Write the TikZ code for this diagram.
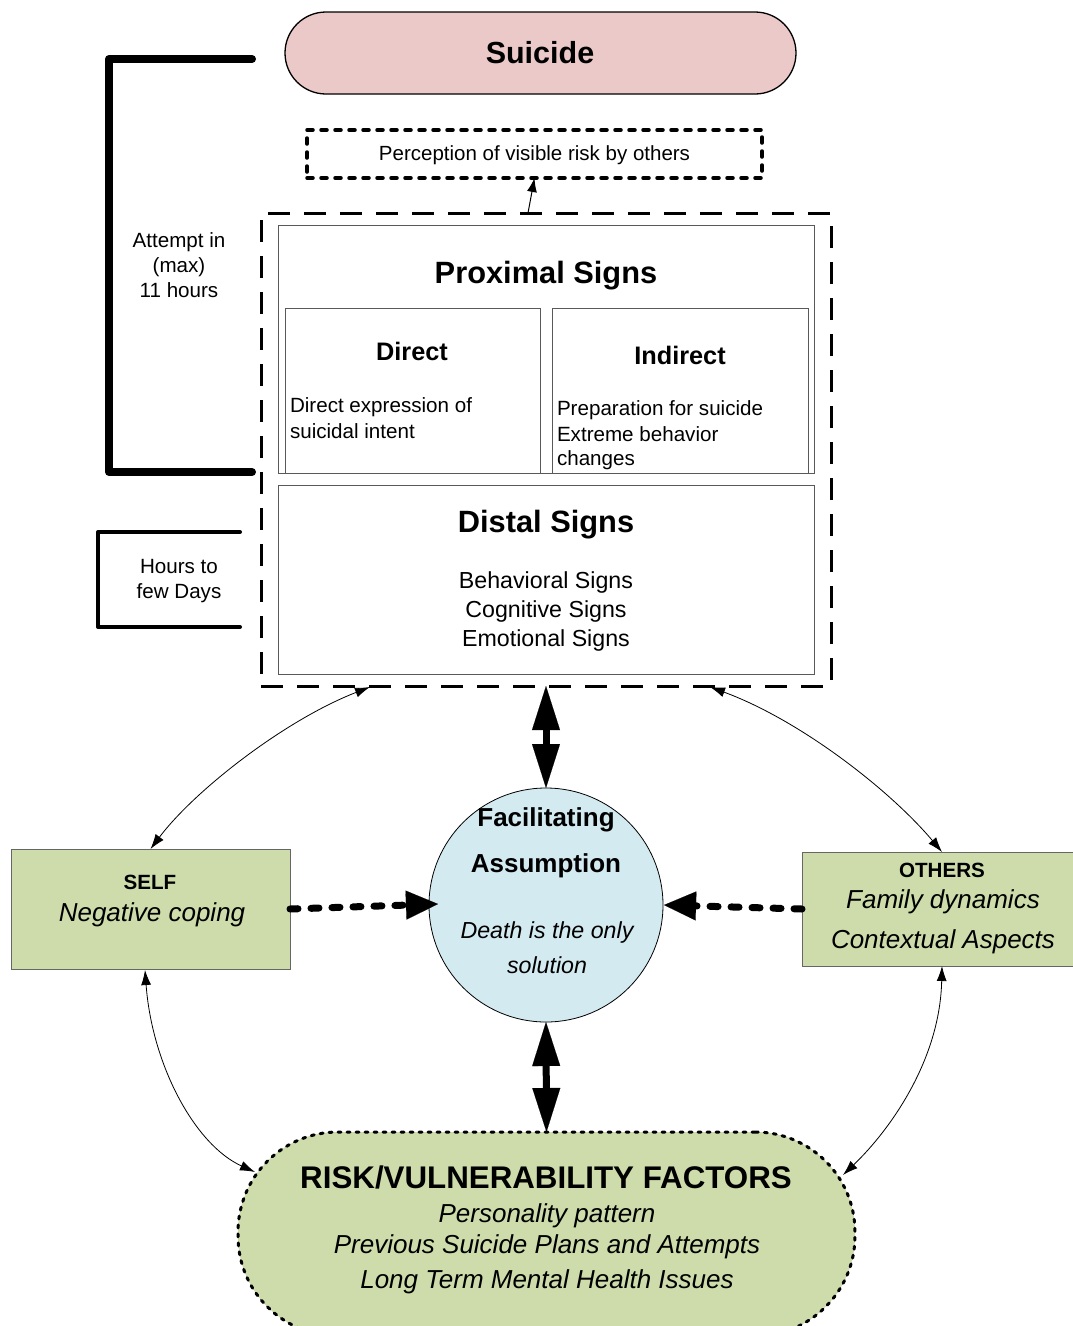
\documentclass[tikz,border=0pt]{standalone}
\usepackage{fontspec}
\setmainfont{Liberation Sans}
\usetikzlibrary{arrows.meta}
\definecolor{suicidefill}{RGB}{235,201,200}
\definecolor{factorfill}{RGB}{205,220,170}
\definecolor{assumefill}{RGB}{211,234,240}
\newcommand{\fsz}[1]{\fontsize{#1}{#1}\selectfont}
\begin{document}
\begin{tikzpicture}[x=1pt,y=-1pt,
  every node/.style={outer sep=0pt, inner sep=0pt},
  lbl/.style={anchor=base, text=black},
  lblw/.style={anchor=base west, text=black},
  frame/.style={draw=black!65, line width=0.9pt},
  greenbox/.style={draw=black!60, line width=1pt, fill=factorfill},
  bigdbl/.style={line width=7pt,
    {Triangle[length=44pt,width=28pt,line width=0.1pt]}-{Triangle[length=44pt,width=28pt,line width=0.1pt]}},
  dotarr/.style={line width=7pt, line cap=round, dash pattern=on 8pt off 13pt,
    -{Triangle[length=32pt,width=29pt,line width=0.1pt]}},
  thinarr/.style={line width=0.8pt,
    {Latex[length=15pt,width=10pt]}-{Latex[length=15pt,width=10pt]}},
]
\useasboundingbox (0,0) rectangle (1073,1326);
\clip (0,0) rectangle (1073,1326);

% ---- top: outcome and perception
\node[draw, line width=1.3pt, fill=suicidefill, rounded corners=41pt,
      minimum width=511pt, minimum height=82pt] (suicide) at (540.5,53) {};
\node[lbl, font=\fsz{30.5}\bfseries] (suicideT) at (540,63) {Suicide};

\node[draw, line width=3.5pt, line cap=round, dash pattern=on 6pt off 8pt,
      minimum width=455pt, minimum height=48pt] (percep) at (534.5,154) {};
\node[lbl, font=\fsz{20.5}] (percepT) at (534.5,160) {Perception of visible risk by others};

% ---- warning signs
\node[draw, line width=3pt, dash pattern=on 22pt off 14pt,
      minimum width=570pt, minimum height=473pt] (outer) at (546,449.5) {};
\node[frame, minimum width=536pt, minimum height=248pt] (prox) at (546,349) {};
\node[frame, minimum width=255pt, minimum height=165pt] (direct) at (412.5,390.5) {};
\node[frame, minimum width=256pt, minimum height=165pt] (indirect) at (680,390.5) {};
\node[frame, minimum width=536pt, minimum height=189pt] (distal) at (546,579.5) {};

\node[lbl, font=\fsz{30.8}\bfseries] (proxT) at (546,283) {Proximal Signs};
\node[lbl, font=\fsz{25.3}\bfseries] (directT) at (412,360) {Direct};
\node[lbl, font=\fsz{25.3}\bfseries] (indirectT) at (680,364) {Indirect};
\node[lblw, font=\fsz{20.6}] (directA) at (290,412) {Direct expression of};
\node[lblw, font=\fsz{20.6}] (directB) at (290,438) {suicidal intent};
\node[lblw, font=\fsz{20.6}] (indirA) at (557,415.5) {Preparation for suicide};
\node[lblw, font=\fsz{20.6}] (indirB) at (557,441) {Extreme behavior};
\node[lblw, font=\fsz{20.6}] (indirC) at (557,465.5) {changes};

\node[lbl, font=\fsz{30.8}\bfseries] (distalT) at (546,532) {Distal Signs};
\node[lbl, font=\fsz{23.2}] (distA) at (546,588) {Behavioral Signs};
\node[lbl, font=\fsz{23.2}] (distB) at (546,617) {Cognitive Signs};
\node[lbl, font=\fsz{23.2}] (distC) at (546,646) {Emotional Signs};

% ---- time brackets
\coordinate (brTop) at (252,59);
\coordinate (brBot) at (252,472);
\coordinate (brLeft) at (109,472);
\draw[line width=8pt, line cap=round, line join=round] (brTop) -| (brLeft) -- (brBot);
\node[lbl, font=\fsz{20.6}] (attA) at (179,247) {Attempt in};
\node[lbl, font=\fsz{20.6}] (attB) at (179,272) {(max)};
\node[lbl, font=\fsz{20.6}] (attC) at (179,297) {11 hours};

\coordinate (sbTop) at (240,532);
\coordinate (sbBot) at (240,627);
\coordinate (sbLeft) at (98,627);
\draw[line width=4pt, line cap=round, line join=round] (sbTop) -| (sbLeft) -- (sbBot);
\node[lbl, font=\fsz{20.6}] (hrsA) at (179,573) {Hours to};
\node[lbl, font=\fsz{20.6}] (hrsB) at (179,598) {few Days};

% ---- central assumption
\node[circle, draw, line width=0.8pt, fill=assumefill, minimum size=234pt] (assume) at (546,905) {};
\node[lbl, font=\fsz{26}\bfseries] (assA) at (546,826) {Facilitating};
\node[lbl, font=\fsz{26}\bfseries] (assB) at (546,872) {Assumption};
\node[lbl, font=\fsz{23.2}\itshape] (assC) at (547,938) {Death is the only};
\node[lbl, font=\fsz{23.2}\itshape] (assD) at (547,973) {solution};

% ---- self and others
\node[greenbox, minimum width=279pt, minimum height=120pt] (self) at (150.5,909) {};
\node[lbl, font=\fsz{20.6}\bfseries] (selfT) at (150,889) {SELF};
\node[lbl, font=\fsz{26}\itshape] (selfA) at (152,921) {Negative coping};

\node[greenbox, minimum width=280pt, minimum height=114pt] (others) at (942,909) {};
\node[lbl, font=\fsz{20.6}\bfseries] (othT) at (942,877) {OTHERS};
\node[lbl, font=\fsz{26}\itshape] (othA) at (943,908) {Family dynamics};
\node[lbl, font=\fsz{26}\itshape] (othB) at (943,948) {Contextual Aspects};

% ---- risk factors
\node[draw, line width=3pt, line cap=round, dash pattern=on 3pt off 6pt, fill=factorfill,
      rounded corners=100pt, minimum width=617pt, minimum height=204pt] (risk) at (546.5,1234) {};
\node[lbl, font=\fsz{31.3}\bfseries] (riskT) at (546,1188) {RISK/VULNERABILITY FACTORS};
\node[lbl, font=\fsz{26}\itshape] (riskA) at (547,1222) {Personality pattern};
\node[lbl, font=\fsz{26}\itshape] (riskB) at (547,1253) {Previous Suicide Plans and Attempts};
\node[lbl, font=\fsz{26}\itshape] (riskC) at (547,1288) {Long Term Mental Health Issues};

% ---- connectors
\coordinate (outTop) at (528,213);
\draw[line width=1pt, -{Latex[length=14pt,width=10pt]}] (outTop) -- (percep.south);

\draw[bigdbl] (outer.south) -- (assume.north);
\draw[bigdbl] (assume.south) -- (risk.north);

\coordinate (assumeL) at (438,904);
\coordinate (assumeR) at (664,905);
\draw[dotarr] (self.east) -- (assumeL);
\draw[dotarr] (others.west) -- (assumeR);

\coordinate (outBL) at (370,687);
\coordinate (outBR) at (710,687);
\coordinate (riskL) at (255,1172);
\coordinate (riskR) at (843,1175);
\coordinate (selfBot) at (145,970);
\draw[thinarr] (self.north) .. controls (195,790) and (285,720) .. (outBL);
\draw[thinarr] (others.north) .. controls (890,790) and (800,720) .. (outBR);
\draw[thinarr] (selfBot) .. controls (152,1065) and (195,1145) .. (riskL);
\draw[thinarr] (others.south) .. controls (940,1060) and (890,1130) .. (riskR);
\end{tikzpicture}
\end{document}
